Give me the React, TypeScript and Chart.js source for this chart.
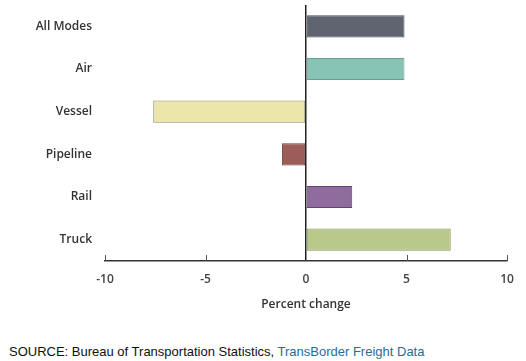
import React, { useEffect, useRef } from "react";
import { Chart, registerables } from "chart.js";

Chart.register(...registerables);

const categories = ["All Modes", "Air", "Vessel", "Pipeline", "Rail", "Truck"];
const percentChange = [4.9, 4.9, -7.6, -1.2, 2.3, 7.2];
const barColors = ["#5f6470", "#88c4b5", "#ede6aa", "#9c5c57", "#8f6b9e", "#b9c98a"];
const barBorders = ["#474b55", "#6a9f92", "#8e896a", "#6a3c38", "#5e4670", "#808f5c"];
const xTickValues = [-10, -5, 5, 10];
const xAxisTitle = "Percent change";
const sourceLabel = "SOURCE: Bureau of Transportation Statistics, ";
const sourceLink = "TransBorder Freight Data";

const innerTicks = {
  id: "innerTicks",
  afterDraw(chart: any) {
    const { ctx, chartArea, scales } = chart;
    const x = scales.x;
    ctx.save();
    ctx.strokeStyle = "#555";
    ctx.lineWidth = 1;
    for (const v of xTickValues) {
      const px = Math.round(x.getPixelForValue(v)) + 0.5;
      ctx.beginPath();
      ctx.moveTo(px, chartArea.bottom);
      ctx.lineTo(px, chartArea.bottom - 6);
      ctx.stroke();
    }
    ctx.restore();
  },
};

export default function App() {
  const ref = useRef<HTMLCanvasElement | null>(null);

  useEffect(() => {
    if (!ref.current) return;
    const font = { family: "'Open Sans', sans-serif", size: 12, weight: "600" as any };
    const chart = new Chart(ref.current, {
      type: "bar",
      data: {
        labels: categories,
        datasets: [
          {
            data: percentChange,
            backgroundColor: barColors,
            borderColor: barBorders,
            borderWidth: 1,
            borderSkipped: false,
            categoryPercentage: 1,
            barPercentage: 0.52,
          },
        ],
      },
      options: {
        indexAxis: "y",
        responsive: false,
        animation: false,
        layout: { padding: { top: 5, right: 19, left: 0, bottom: 0 } },
        plugins: { legend: { display: false }, tooltip: { enabled: false } },
        scales: {
          x: {
            type: "linear",
            min: -10,
            max: 10,
            afterFit(scale: any) {
              scale.height = 61;
              scale.paddingLeft = 0;
              scale.paddingRight = 0;
            },
            ticks: { stepSize: 5, color: "#444", font, padding: 11 },
            grid: {
              drawTicks: false,
              color: (c: any) => (c.tick && c.tick.value === 0 ? "#222" : "rgba(0,0,0,0)"),
              lineWidth: 1.5,
            },
            border: { display: true, color: "#333", width: 1.5 },
            title: {
              display: true,
              text: xAxisTitle,
              color: "#333",
              font: { family: "'Open Sans', sans-serif", size: 12, weight: "600" as any },
              padding: { top: 0, bottom: 10 },
            },
          },
          y: {
            type: "category",
            afterFit(scale: any) {
              scale.width = 105;
              scale.paddingTop = 0;
              scale.paddingBottom = 0;
            },
            ticks: { color: "#333", font, padding: 13 },
            grid: { display: false, drawTicks: false },
            border: { display: false },
          },
        },
      },
      plugins: [innerTicks],
    });
    return () => chart.destroy();
  }, []);

  return (
    <div style={{ position: "fixed", left: 0, top: 0, width: 526, height: 361, background: "#fff" }}>
      <canvas ref={ref} width={526} height={322} style={{ display: "block", width: 526, height: 322 }} />
      <div
        style={{
          position: "absolute",
          left: 9,
          top: 344,
          fontFamily: "'Liberation Sans', Arial, sans-serif",
          fontSize: 13,
          lineHeight: "15px",
          color: "#111",
          whiteSpace: "nowrap",
        }}
      >
        {sourceLabel}
        <span style={{ color: "#2b6a94" }}>{sourceLink}</span>
      </div>
    </div>
  );
}
